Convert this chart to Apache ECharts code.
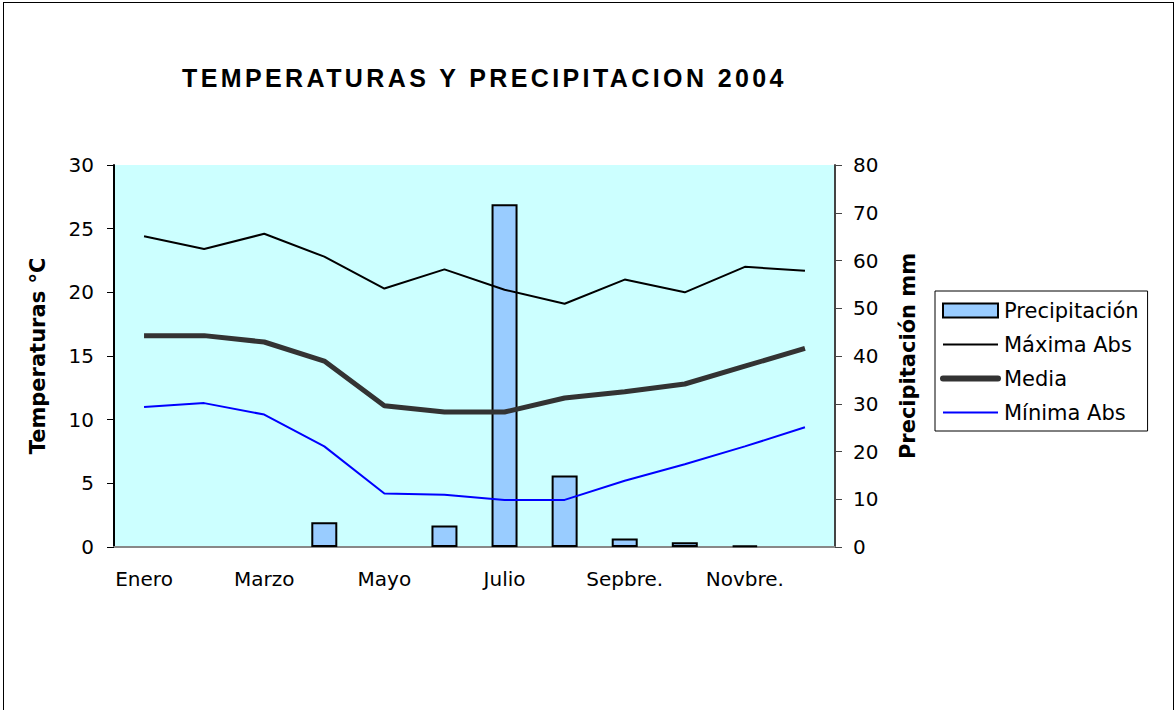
<!DOCTYPE html>
<html>
<head>
<meta charset="utf-8">
<script src="https://cdn.jsdelivr.net/npm/echarts@6/dist/echarts.min.js"></script>
<style>
  html, body { margin: 0; padding: 0; background: #fff; }
  #frame { position: absolute; left: 3px; top: 2px; width: 1169px; height: 730px; border: 1px solid #000; }
  #chart { position: absolute; left: 0; top: 0; width: 1175px; height: 710px; }
</style>
</head>
<body>
<div id="frame"></div>
<div id="chart"></div>
<script>
// meses
const months = ['Enero', 'Febrero', 'Marzo', 'Abril', 'Mayo', 'Junio', 'Julio', 'Agosto', 'Sepbre.', 'Octubre', 'Novbre.', 'Dicbre.']
// precipitacion mm
const precipitacion = [0, 0, 0, 5.2, 0, 4.5, 71.8, 15.0, 1.8, 1.0, 0.3, 0]
// temperaturas
const maxima = [24.4, 23.4, 24.6, 22.8, 20.3, 21.8, 20.2, 19.1, 21.0, 20.0, 22.0, 21.7]
const media = [16.6, 16.6, 16.1, 14.6, 11.1, 10.6, 10.6, 11.7, 12.2, 12.8, 14.2, 15.6]
const minima = [11.0, 11.3, 10.4, 7.9, 4.2, 4.1, 3.7, 3.7, 5.2, 6.5, 7.9, 9.4]

const titleText = 'TEMPERATURAS Y PRECIPITACION 2004'
const font = 'DejaVu Sans'

// meses sin lluvia: sin borde (no se dibuja nada)
const precipData = precipitacion.map(v => v > 0 ? v : { value: v, itemStyle: { borderWidth: 0 } })

const chart = echarts.init(document.getElementById('chart'), null, { renderer: 'svg' })
chart.setOption({
  animation: false,
  textStyle: { fontFamily: font, color: '#000' },
  title: {
    text: titleText,
    left: 177,
    top: 60,
    textStyle: { fontFamily: 'Liberation Sans', fontSize: 25, fontWeight: 'bold', color: '#000' }
  },
  grid: {
    left: 114,
    right: 340,
    top: 165,
    bottom: 163,
    show: true,
    backgroundColor: '#ccffff',
    borderWidth: 0
  },
  legend: {
    orient: 'vertical',
    left: 935,
    top: 291,
    padding: [9, 9, 8, 5],
    itemGap: 13,
    itemWidth: 55,
    itemHeight: 14,
    borderColor: '#000',
    borderWidth: 1,
    textStyle: { fontFamily: font, fontSize: 21, color: '#000', padding: [0, 0, 0, 1] },
    data: [
      { name: 'Precipitación', icon: 'rect' },
      { name: 'Máxima Abs', itemStyle: { opacity: 0 }, lineStyle: { width: 2 } },
      { name: 'Media', itemStyle: { opacity: 0 }, lineStyle: { width: 6, cap: 'round' } },
      { name: 'Mínima Abs', itemStyle: { opacity: 0 }, lineStyle: { width: 2 } }
    ]
  },
  xAxis: [
    {
      type: 'category',
      data: months,
      boundaryGap: true,
      axisLine: { lineStyle: { color: '#000', width: 2 } },
      axisTick: { interval: 0, length: 7, lineStyle: { color: '#000' } },
      axisLabel: { interval: 1, fontSize: 20, color: '#000', margin: 22, fontFamily: font },
      splitLine: { show: false }
    },
    {
      type: 'category',
      data: months,
      position: 'top',
      axisLine: { lineStyle: { color: '#888', width: 2 } },
      axisTick: { show: false },
      axisLabel: { show: false },
      splitLine: { show: false }
    }
  ],
  yAxis: [
    {
      type: 'value',
      min: 0,
      max: 30,
      interval: 5,
      name: 'Temperaturas °C',
      nameLocation: 'middle',
      nameRotate: 90,
      nameGap: 66,
      nameTextStyle: { fontFamily: font, fontSize: 21, fontWeight: 'bold', color: '#000' },
      axisLine: { show: true, lineStyle: { color: '#000', width: 2 } },
      axisTick: { show: true, length: 7, lineStyle: { color: '#000' } },
      axisLabel: { fontSize: 20, color: '#000', margin: 20, fontFamily: font },
      splitLine: { show: false }
    },
    {
      type: 'value',
      min: 0,
      max: 80,
      interval: 10,
      name: 'Precipitación mm',
      nameLocation: 'middle',
      nameRotate: 90,
      nameGap: 62,
      nameTextStyle: { fontFamily: font, fontSize: 21, fontWeight: 'bold', color: '#000' },
      axisLine: { show: true, lineStyle: { color: '#444', width: 2 } },
      axisTick: { show: true, length: 7, lineStyle: { color: '#444' } },
      axisLabel: { fontSize: 20, color: '#000', margin: 18, fontFamily: font },
      splitLine: { show: false }
    }
  ],
  series: [
    {
      name: 'Precipitación',
      type: 'bar',
      yAxisIndex: 1,
      barWidth: 26,
      data: precipData,
      itemStyle: { color: '#99ccff', borderColor: '#000', borderWidth: 2 }
    },
    {
      name: 'Máxima Abs',
      type: 'line',
      symbol: 'none',
      data: maxima,
      itemStyle: { color: '#000' },
      lineStyle: { color: '#000', width: 2 }
    },
    {
      name: 'Media',
      type: 'line',
      symbol: 'none',
      data: media,
      itemStyle: { color: '#333' },
      lineStyle: { color: '#333', width: 5 }
    },
    {
      name: 'Mínima Abs',
      type: 'line',
      symbol: 'none',
      data: minima,
      itemStyle: { color: '#0000ff' },
      lineStyle: { color: '#0000ff', width: 2 }
    }
  ]
})

// espaciado del titulo (como en el original, ancho ~600px)
function spaceTitle() {
  const texts = document.querySelectorAll('#chart svg text')
  texts.forEach(t => {
    if (t.textContent === titleText && !t.getAttribute('letter-spacing')) {
      const w = t.getComputedTextLength()
      const ls = 3.4
      const gaps = titleText.split(' ').length - 1
      const ws = Math.max(0, (600 - w - ls * (titleText.length - 1)) / gaps)
      t.setAttribute('letter-spacing', ls)
      t.setAttribute('word-spacing', ws.toFixed(2))
    }
  })
}
spaceTitle()
chart.on('rendered', spaceTitle)
setTimeout(spaceTitle, 0)
</script>
</body>
</html>
